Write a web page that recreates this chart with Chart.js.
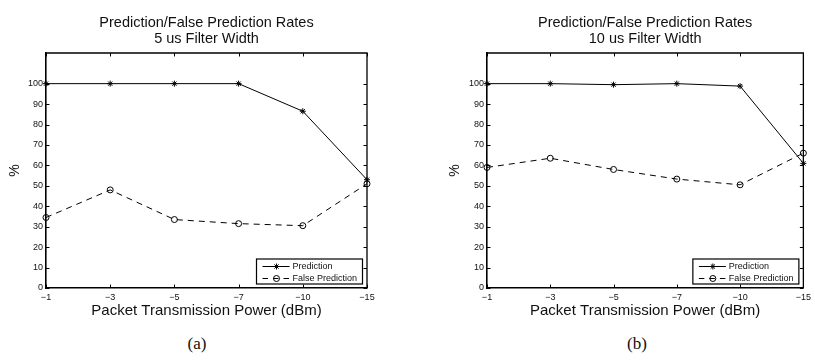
<!DOCTYPE html>
<html><head><meta charset="utf-8">
<script src="https://cdn.jsdelivr.net/npm/chart.js@4"></script>
<style>
html,body{margin:0;padding:0;background:#fff;}
#wrap{position:relative;width:815px;height:360px;overflow:hidden;background:#fff;}
canvas{position:absolute;top:0;}
.cap{position:absolute;top:335px;font-family:"Liberation Serif","DejaVu Serif",serif;font-size:17px;line-height:17px;width:60px;text-align:center;color:#111;}
</style></head><body>
<div id="wrap">
<canvas id="ca" width="410" height="330" style="left:0;width:410px;height:330px"></canvas>
<canvas id="cb" width="405" height="330" style="left:410px;width:405px;height:330px"></canvas>
<div class="cap" style="left:167px">(a)</div>
<div class="cap" style="left:607px">(b)</div>
</div>
<script>
const categories = ['\u22121', '\u22123', '\u22125', '\u22127', '\u221210', '\u221215'];
const yTicks = [0, 10, 20, 30, 40, 50, 60, 70, 80, 90, 100];
const titleLine1 = 'Prediction/False Prediction Rates';
const subtitleA = '5 us Filter Width';
const subtitleB = '10 us Filter Width';
const predictionA = [100, 100, 100, 100, 86.5, 53];
const falsePredA = [34.5, 48, 33.5, 31.5, 30.5, 51];
const predictionB = [100, 100, 99.5, 100, 98.8, 61];
const falsePredB = [59, 63.5, 58, 53.3, 50.5, 66];

const SANS = '"Liberation Sans", Arial, Helvetica, sans-serif';
const TXT = '#111';

const framePlugin = {
  id: 'frame',
  beforeDatasetsDraw(chart) {
    const {ctx, chartArea: {left, right, top, bottom}, scales: {x, y}} = chart;
    ctx.save();
    ctx.strokeStyle = '#000';
    ctx.lineWidth = 1;
    ctx.beginPath();
    x.ticks.forEach((t, i) => {
      const px = Math.round(x.getPixelForTick(i)) + 0.5;
      ctx.moveTo(px, bottom); ctx.lineTo(px, bottom - 3.5);
      ctx.moveTo(px, top); ctx.lineTo(px, top + 3.5);
    });
    y.ticks.forEach(t => {
      const py = Math.round(y.getPixelForValue(t.value)) + 0.5;
      ctx.moveTo(left, py); ctx.lineTo(left + 3.5, py);
      ctx.moveTo(right, py); ctx.lineTo(right - 3.5, py);
    });
    ctx.stroke();
    ctx.lineWidth = 1.3;
    ctx.beginPath();
    ctx.moveTo(left, top); ctx.lineTo(right, top); ctx.lineTo(right, bottom);
    ctx.stroke();
    ctx.restore();
  },
  afterDraw(chart) {
    const {ctx, chartArea: {right, bottom}} = chart;
    const w = 106, h = 25;
    const bx = right - 4.5 - w, by = bottom - 4 - h;
    ctx.save();
    ctx.fillStyle = '#fff';
    ctx.fillRect(bx, by, w, h);
    ctx.strokeStyle = '#000';
    ctx.lineWidth = 1.2;
    ctx.strokeRect(bx, by, w, h);
    chart.data.datasets.forEach((ds, i) => {
      const ry = by + 7.5 + 12 * i;
      ctx.strokeStyle = '#000';
      ctx.lineWidth = 1;
      ctx.setLineDash(ds.borderDash ? [5.5, 5] : []);
      ctx.beginPath();
      ctx.moveTo(bx + 6, ry); ctx.lineTo(bx + 33, ry);
      ctx.stroke();
      ctx.setLineDash([]);
      ctx.fillStyle = 'rgba(0,0,0,0)';
      if (Chart.helpers && Chart.helpers.drawPoint) {
        Chart.helpers.drawPoint(ctx, {pointStyle: ds.pointStyle, radius: ds.pointRadius, borderWidth: 1, rotation: 0}, bx + 20, ry);
      }
      ctx.fillStyle = TXT;
      ctx.font = '9px ' + SANS;
      ctx.textBaseline = 'middle';
      ctx.textAlign = 'left';
      ctx.fillText(ds.label, bx + 36, ry);
    });
    ctx.restore();
  }
};

function makeChart(id, sub, pred, fals, padL, yW, padR) {
  return new Chart(document.getElementById(id), {
    type: 'line',
    data: {
      labels: categories,
      datasets: [
        {label: 'Prediction', data: pred, borderColor: '#000', borderWidth: 1,
         pointStyle: 'star', pointRadius: 3, pointBorderWidth: 1,
         pointBorderColor: '#000', pointBackgroundColor: '#000', tension: 0, fill: false},
        {label: 'False Prediction', data: fals, borderColor: '#000', borderWidth: 1, borderDash: [6, 5],
         pointStyle: 'circle', pointRadius: 3, pointBorderWidth: 1,
         pointBorderColor: '#000', pointBackgroundColor: 'rgba(0,0,0,0)', tension: 0, fill: false}
      ]
    },
    options: {
      responsive: false, animation: false, devicePixelRatio: 1, events: [],
      layout: {padding: {left: padL, right: padR, top: 0, bottom: 0}},
      plugins: {
        legend: {display: false},
        tooltip: {enabled: false},
        title: {
          display: true, fullSize: false,
          text: [titleLine1, sub], color: TXT,
          font: {family: SANS, size: 14.5, weight: 'normal', lineHeight: '16.5px'},
          padding: {top: 14.25, bottom: 5.75}
        }
      },
      scales: {
        x: {
          type: 'category', offset: false,
          grid: {display: false, drawTicks: false, tickLength: 0},
          border: {display: true, color: '#000', width: 1.6},
          ticks: {color: TXT, font: {family: SANS, size: 9}, padding: 4, maxRotation: 0, autoSkip: false},
          title: {display: true, text: 'Packet Transmission Power (dBm)', color: TXT,
                  font: {family: SANS, size: 15, lineHeight: 1.2}, padding: {top: 0, bottom: 10}},
          afterFit(s) { s.height = 42; }
        },
        y: {
          type: 'linear', min: 0, max: 115,
          grid: {display: false, drawTicks: false, tickLength: 0},
          border: {display: true, color: '#000', width: 1.6},
          afterBuildTicks(s) { s.ticks = yTicks.map(v => ({value: v})); },
          ticks: {color: TXT, font: {family: SANS, size: 9}, padding: 3},
          title: {display: true, text: '%', color: TXT,
                  font: {family: SANS, size: 14, lineHeight: 1.2}, padding: {top: 6.6, bottom: 0}},
          afterFit(s) { s.width = yW; }
        }
      }
    },
    plugins: [framePlugin]
  });
}

makeChart('ca', subtitleA, predictionA, falsePredA, 0, 46, 43);
makeChart('cb', subtitleB, predictionB, falsePredB, 30, 47, 6);
</script>
</body></html>
